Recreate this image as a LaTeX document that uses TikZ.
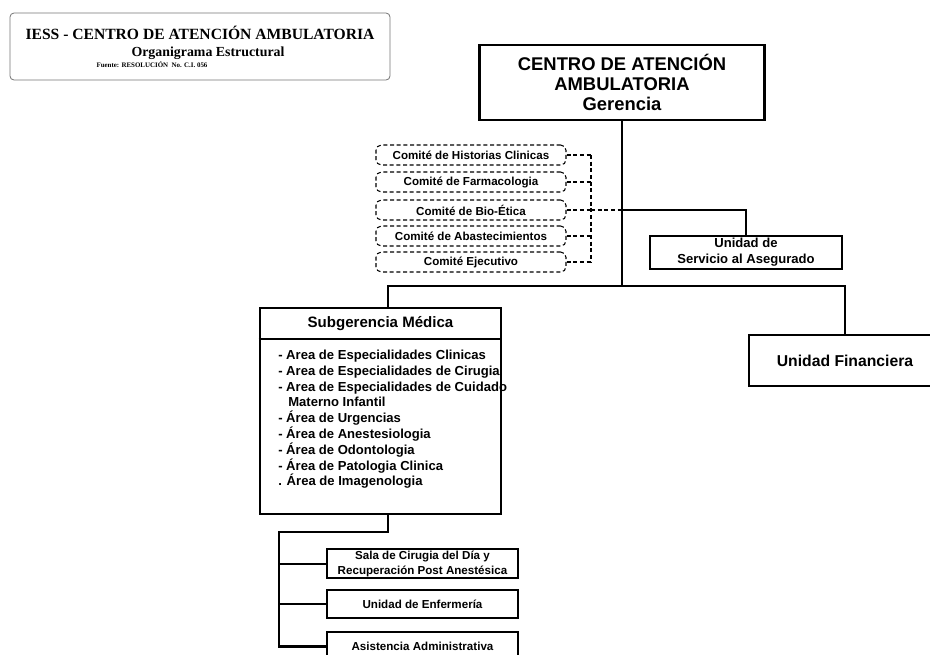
\documentclass[tikz,border=0pt]{standalone}
\usepackage{fontspec}
\setmainfont{Liberation Sans}
\newfontfamily\hdrfont{Liberation Serif}
\begin{document}
\begin{tikzpicture}[x=0.75pt,y=-0.75pt,
  box/.style={draw, inner sep=0pt, align=center},
  heavy/.style={line width=2.2pt},
  medium/.style={line width=1.5pt},
  light/.style={line width=0.9pt},
  dsh/.style={line width=0.8pt, dash pattern=on 3pt off 2pt},
  cbox/.style={box, dsh, rounded corners=4pt, minimum width=190*0.75pt, minimum height=20*0.75pt, font=\fontsize{8.7}{10}\selectfont\bfseries},
  mbox/.style={box, medium, minimum width=191*0.75pt, font=\fontsize{8.7}{11.2}\selectfont\bfseries},
  item/.style={anchor=base west, inner sep=0pt, font=\fontsize{9.8}{11.8}\selectfont\bfseries}
]
\useasboundingbox (0,0) rectangle (930,654);
\begin{scope}
\clip (0,0) rectangle (930,654);

% header
\node[draw=black!55, line width=0.6pt, rounded corners=3pt, minimum width=380*0.75pt, minimum height=67*0.75pt, inner sep=0pt] (hdr) at (200,46.5) {};
\node[inner sep=0pt, font=\hdrfont\fontsize{11.7}{13}\selectfont\bfseries] (h1) at (200,33) {IESS - CENTRO DE ATENCIÓN AMBULATORIA};
\node[inner sep=0pt, font=\hdrfont\fontsize{10.4}{12}\selectfont\bfseries] (h2) at (208,53) {Organigrama Estructural};
\node[inner sep=0pt, font=\hdrfont\fontsize{5.2}{6}\selectfont\bfseries] (h3) at (152,65) {Fuente: RESOLUCIÓN\ \ No. C.I. 056};

% gerencia
\node[box, heavy, minimum width=285*0.75pt, minimum height=75*0.75pt, font=\fontsize{13.8}{15.3}\selectfont\bfseries] (ger) at (622,82.5) {CENTRO DE ATENCIÓN\\AMBULATORIA\\Gerencia};

% committees
\node[cbox] (c1) at (471,155) {Comité de Historias Clinicas};
\node[cbox] (c2) at (471,182) {Comité de Farmacologia};
\node[cbox] (c3) at (471,210) {Comité de Bio-Ética};
\node[cbox] (c4) at (471,236) {Comité de Abastecimientos};
\node[cbox] (c5) at (471,262) {Comité Ejecutivo};

\coordinate (dv) at (591,0);
\coordinate (b1) at (622,210);
\coordinate (hub) at (622,286);
\foreach \i in {1,...,5} \draw[dsh] (c\i.east) -- (c\i.east -| dv);
\draw[dsh] (c1.east -| dv) -- (c5.east -| dv);
\draw[dsh] (c3.east -| dv) -- (b1);

% servicio al asegurado
\node[box, line width=1.2pt, minimum width=192*0.75pt, minimum height=33*0.75pt, font=\fontsize{9.8}{12}\selectfont\bfseries] (ser) at (746,252.5) {Unidad de\\Servicio al Asegurado};
\draw[light] (b1) -| (ser.north);

% financiera
\node[box, line width=1.1pt, minimum width=192*0.75pt, minimum height=51*0.75pt, font=\fontsize{11.8}{14}\selectfont\bfseries] (fin) at (845,360.5) {Unidad Financiera};

% subgerencia
\node[box, line width=2pt, minimum width=241*0.75pt, minimum height=206*0.75pt] (sub) at (380.5,411) {};
\node[inner sep=0pt, font=\fontsize{11.3}{13}\selectfont\bfseries] (subt) at (380.5,323.5) {Subgerencia Médica};
\coordinate (dvd) at (0,339);
\draw[light] (sub.west |- dvd) -- (sub.east |- dvd);
\foreach \xx/\t [count=\i] in {278/{- Area de Especialidades Clinicas},
  278/{- Area de Especialidades de Cirugia},
  278/{- Area de Especialidades de Cuidado},
  288/{Materno Infantil},
  278/{- Área de Urgencias},
  278/{- Área de Anestesiologia},
  278/{- Área de Odontologia},
  278/{- Área de Patologia Clinica},
  278/{. Área de Imagenologia}}
  \node[item] (l\i) at (\xx,{359.5+15.8*(\i-1)}) {\t};

% main connectors
\coordinate (subx) at (388,0);
\draw[heavy] (ger.south) -- (hub) -| (sub.north -| subx);
\draw[light] (hub) -| (fin.north);

% lower boxes
\node[mbox, minimum height=29*0.75pt] (sala) at (422.5,563.5) {Sala de Cirugia del Día y\\Recuperación Post Anestésica};
\node[mbox, minimum height=28*0.75pt] (enf) at (422.5,604) {Unidad de Enfermería};
\node[mbox, minimum height=29*0.75pt] (asi) at (422.5,646.5) {Asistencia Administrativa};

\coordinate (s1) at (279,532);
\draw[line width=1.7pt] (sub.south -| subx) |- (s1) -- (s1 |- asi.west) -- (asi.west);
\draw[medium] (s1 |- sala.west) -- (sala.west);
\draw[medium] (s1 |- enf.west) -- (enf.west);
\end{scope}
\end{tikzpicture}
\end{document}
